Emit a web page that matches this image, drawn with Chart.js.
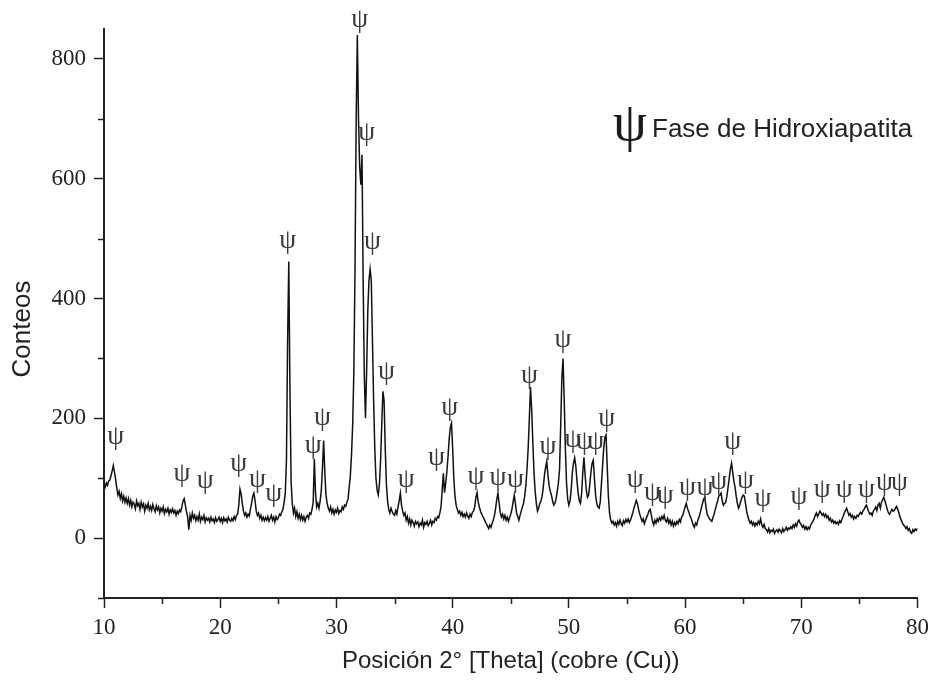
<!DOCTYPE html>
<html>
<head>
<meta charset="utf-8">
<script src="https://cdn.jsdelivr.net/npm/chart.js@4"></script>
<style>
  body { margin: 0; background: #fff; }
  #wrap { width: 935px; height: 681px; }
</style>
</head>
<body>
<div id="wrap"><canvas id="myChart" width="935" height="681"></canvas></div>
<script>
// difractograma: conteos cada 0.1 grados desde 10 hasta 80
const angleStart = 10;
const angleStep = 0.1;
const counts = [
  90, 85, 92, 88, 95, 97, 104, 112, 121, 110,
  98, 84, 72, 78, 66, 74, 62, 70, 60, 67,
  58, 66, 55, 63, 52, 60, 57, 49, 62, 54,
  58, 48, 60, 52, 57, 45, 55, 50, 58, 47,
  53, 46, 56, 49, 44, 54, 47, 52, 42, 50,
  45, 52, 41, 48, 44, 50, 40, 47, 43, 49,
  42, 46, 38, 45, 41, 47, 44, 52, 62, 66,
  55, 44, 35, 14, 38, 30, 42, 33, 38, 29,
  36, 30, 40, 28, 35, 31, 38, 27, 34, 30,
  33, 27, 35, 29, 32, 26, 34, 28, 31, 35,
  28, 33, 26, 34, 29, 32, 27, 35, 30, 28,
  33, 29, 36, 31, 38, 40, 55, 82, 74, 58,
  45, 38, 42, 35, 40, 37, 48, 58, 70, 75,
  62, 45, 38, 42, 33, 38, 30, 35, 29, 34,
  30, 36, 28, 33, 38, 30, 35, 27, 36, 31,
  34, 40, 38, 44, 48, 60, 75, 130, 330, 462,
  250, 95, 58, 42, 50, 36, 44, 33, 40, 31,
  38, 30, 36, 28, 35, 38, 33, 42, 40, 48,
  60, 132, 75, 52, 58, 50, 62, 80, 118, 163,
  110, 72, 58, 50, 45, 52, 42, 48, 40, 47,
  43, 50, 41, 46, 44, 52, 48, 55, 53, 60,
  65, 85, 105, 140, 190, 280, 450, 700, 840, 700,
  620, 590, 640, 430, 270, 200, 280, 380, 430, 449,
  430, 330, 230, 150, 100, 80, 72, 90, 130, 190,
  245, 230, 150, 90, 62, 48, 42, 50, 44, 40,
  38, 46, 40, 52, 62, 75, 55, 45, 38, 42,
  30, 36, 25, 32, 22, 30, 26, 20, 28, 24,
  27, 19, 25, 22, 30, 18, 26, 23, 28, 21,
  25, 30, 22, 28, 26, 33, 30, 36, 34, 42,
  52, 80, 108, 76, 92, 110, 135, 165, 185, 192,
  150, 100, 70, 55, 48, 42, 45, 38, 43, 36,
  40, 35, 42, 37, 33, 40, 36, 43, 45, 52,
  68, 76, 60, 52, 45, 40, 36, 32, 28, 24,
  20, 16, 22, 18, 25, 30, 38, 50, 65, 75,
  58, 42, 35, 40, 32, 38, 30, 35, 28, 34,
  40, 48, 60, 72, 58, 42, 36, 30, 38, 45,
  52, 58, 70, 88, 115, 150, 200, 252, 215, 160,
  110, 78, 58, 45, 50, 58, 62, 70, 85, 105,
  118, 128, 105, 88, 78, 72, 62, 55, 58, 66,
  78, 92, 115, 190, 268, 300, 230, 150, 92, 65,
  55, 62, 80, 110, 125, 134, 120, 95, 75, 62,
  58, 75, 110, 135, 105, 80, 68, 72, 90, 110,
  125, 130, 100, 72, 58, 52, 50, 60, 90, 120,
  150, 168, 172, 120, 70, 42, 30, 25, 28, 22,
  26, 20, 28, 23, 30, 24, 21, 29, 25, 31,
  27, 32, 26, 30, 36, 42, 50, 56, 63, 58,
  48, 40, 34, 28, 32, 24, 30, 35, 40, 46,
  48, 38, 28, 22, 30, 25, 32, 28, 34, 30,
  36, 32, 38, 30, 27, 33, 25, 30, 22, 28,
  20, 26, 22, 28, 24, 31, 27, 35, 38, 45,
  52, 58, 50, 45, 38, 34, 28, 22, 18, 25,
  22, 30, 35, 42, 50, 58, 65, 68, 52, 40,
  36, 32, 30, 28, 34, 40, 48, 55, 62, 70,
  72, 75, 62, 55, 58, 60, 70, 85, 100, 115,
  125, 110, 95, 85, 70, 58, 50, 55, 62, 68,
  72, 70, 58, 45, 36, 30, 25, 28, 22, 26,
  20, 25, 22, 28, 24, 32, 22, 18, 23, 16,
  14, 10, 16, 9, 13, 11, 15, 8, 12, 14,
  10, 15, 12, 9, 16, 11, 14, 18, 13, 17,
  15, 19, 16, 22, 18, 24, 20, 27, 30, 25,
  22, 18, 21, 15, 19, 14, 18, 15, 21, 25,
  28, 32, 38, 42, 36, 40, 45, 42, 38, 41,
  36, 40, 34, 37, 30, 33, 27, 30, 25, 28,
  24, 27, 23, 29, 26, 32, 36, 42, 46, 50,
  44, 38, 41, 35, 38, 32, 36, 33, 38, 36,
  40, 43, 40, 45, 48, 52, 55, 50, 44, 40,
  42, 38, 45, 48, 52, 46, 55, 58, 50, 60,
  64, 68, 62, 55, 48, 42, 40, 44, 48, 45,
  46, 50, 53, 48, 42, 35, 30, 25, 22, 20,
  16, 19, 13, 16, 10, 8, 14, 11, 15, 13,
  16
];

// marcas de fase (psi) sobre los picos
const psiAngles = [11.0, 16.7, 18.7, 21.6, 23.2, 24.6, 25.8, 28.0, 28.8, 32.0,
  32.6, 33.1, 34.3, 36.0, 38.6, 39.75, 42.0, 43.9, 45.4, 46.6,
  48.2, 49.5, 50.35, 51.35, 52.3, 53.25, 55.7, 57.2, 58.3, 60.2,
  61.7, 62.9, 64.1, 65.2, 66.7, 69.8, 71.8, 73.7, 75.6, 77.15, 78.45];
const psiCounts = [169, 107, 95, 124, 97, 73, 497, 154, 200, 865,
  676, 494, 277, 98, 134, 217, 102, 100, 97, 271,
  152, 331, 164, 160, 160, 199, 97, 75, 70, 83,
  83, 93, 160, 95, 65, 68, 80, 80, 80, 92, 92];

const xMajor = [10, 20, 30, 40, 50, 60, 70, 80];
const yMajor = [0, 200, 400, 600, 800];
const xMinor = [15, 25, 35, 45, 55, 65, 75];
const yMinor = [-100, 100, 300, 500, 700];

const points = counts.map((c, i) => ({ x: +(angleStart + i * angleStep).toFixed(1), y: c }));

const axisColor = '#222';

const extras = {
  id: 'extras',
  afterDraw(chart) {
    const ctx = chart.ctx;
    const xs = chart.scales.x, ys = chart.scales.y;
    const area = chart.chartArea;
    ctx.save();
    // ticks menores
    ctx.strokeStyle = axisColor;
    ctx.lineWidth = 1.5;
    ctx.beginPath();
    xMinor.forEach(v => {
      const px = Math.round(xs.getPixelForValue(v)) + 0.5;
      ctx.moveTo(px, area.bottom);
      ctx.lineTo(px, area.bottom + 6);
    });
    yMinor.forEach(v => {
      const py = Math.round(ys.getPixelForValue(v)) + 0.5;
      ctx.moveTo(area.left, py);
      ctx.lineTo(area.left - 6, py);
    });
    ctx.stroke();

    // titulo del eje y
    ctx.fillStyle = '#222';
    ctx.font = '26px "Liberation Sans", Arial, sans-serif';
    ctx.textAlign = 'center';
    ctx.textBaseline = 'middle';
    ctx.save();
    ctx.translate(23, 329);
    ctx.rotate(-Math.PI / 2);
    ctx.fillText('Conteos', 0, 0);
    ctx.restore();

    // simbolos psi
    ctx.fillStyle = '#3a3a3a';
    ctx.font = '27px "Liberation Serif", "DejaVu Serif", serif';
    psiAngles.forEach((a, i) => {
      ctx.fillText('\u03C8', xs.getPixelForValue(a), ys.getPixelForValue(psiCounts[i]));
    });

    // leyenda
    ctx.fillStyle = '#1a1a1a';
    ctx.font = '54px "Liberation Serif", "DejaVu Serif", serif';
    ctx.fillText('\u03C8', 630, 126);
    ctx.fillStyle = '#222';
    ctx.textAlign = 'left';
    ctx.textBaseline = 'alphabetic';
    ctx.font = '26px "Liberation Sans", Arial, sans-serif';
    ctx.fillText('Fase de Hidroxiapatita', 652, 137);
    ctx.restore();
  }
};

const ctx = document.getElementById('myChart').getContext('2d');
const chart = new Chart(ctx, {
  type: 'line',
  data: {
    datasets: [{
      label: 'Conteos',
      data: points,
      borderColor: '#111',
      borderWidth: 1.5,
      pointRadius: 0,
      tension: 0,
      fill: false
    }]
  },
  options: {
    responsive: false,
    animation: false,
    layout: { padding: { top: 29, right: 17, left: 0, bottom: 0 } },
    plugins: {
      legend: { display: false },
      tooltip: { enabled: false }
    },
    scales: {
      x: {
        type: 'linear',
        min: 10,
        max: 80,
        afterBuildTicks: s => { s.ticks = xMajor.map(v => ({ value: v })); },
        afterFit: s => { s.height = 83; },
        border: { display: true, color: axisColor, width: 2 },
        grid: { drawOnChartArea: false, drawTicks: true, tickLength: 10, tickColor: axisColor, tickWidth: 1.5 },
        ticks: {
          color: '#222',
          padding: 6,
          maxRotation: 0,
          font: { family: '"Liberation Serif", "Times New Roman", serif', size: 23 }
        },
        title: {
          display: true,
          text: 'Posición 2° [Theta] (cobre (Cu))',
          color: '#222',
          padding: { top: 0, bottom: 5 },
          font: { family: '"Liberation Sans", Arial, sans-serif', size: 24 }
        }
      },
      y: {
        min: -100,
        max: 850,
        afterBuildTicks: s => { s.ticks = yMajor.map(v => ({ value: v })); },
        afterFit: s => { s.width = 104; },
        border: { display: true, color: axisColor, width: 2 },
        grid: { drawOnChartArea: false, drawTicks: true, tickLength: 10, tickColor: axisColor, tickWidth: 1.5 },
        ticks: {
          color: '#222',
          padding: 8,
          font: { family: '"Liberation Serif", "Times New Roman", serif', size: 23 }
        },
        title: { display: false }
      }
    }
  },
  plugins: [extras]
});
</script>
</body>
</html>
